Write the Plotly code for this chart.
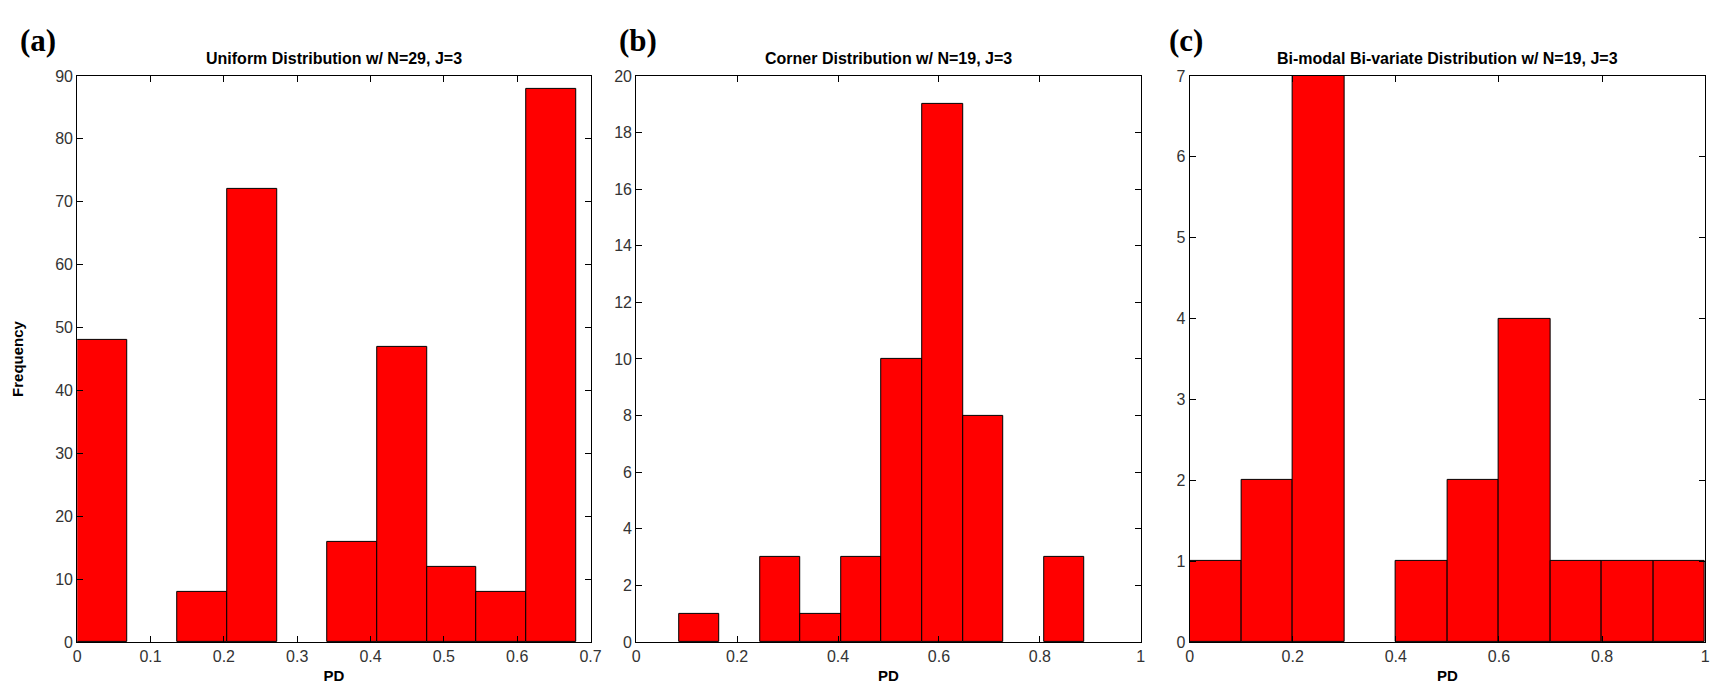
import numpy as np
import plotly.graph_objects as go

# ---- data ----
titles = ["Uniform Distribution w/ N=29, J=3",
          "Corner Distribution w/ N=19, J=3",
          "Bi-modal Bi-variate Distribution w/ N=19, J=3"]
panel_labels = ["(a)", "(b)", "(c)"]

a_bin_start = 0.0
a_bin_width = 0.0681
a_counts = [48, 0, 8, 72, 0, 16, 47, 12, 8, 88]

b_bin_start = 0.085
b_bin_width = 0.0803
b_counts = [1, 0, 3, 1, 3, 10, 19, 8, 0, 3]

c_bin_start = 0.0
c_bin_width = 0.1
c_counts = [1, 2, 7, 0, 1, 2, 4, 1, 1, 1]

x_ranges = [[0, 0.7], [0, 1], [0, 1]]
x_dticks = [0.1, 0.2, 0.2]
y_ranges = [[0, 90], [0, 20], [0, 7]]
y_dticks = [10, 2, 1]

panels = [(a_bin_start, a_bin_width, a_counts),
          (b_bin_start, b_bin_width, b_counts),
          (c_bin_start, c_bin_width, c_counts)]

# ---- layout geometry ----
W, H = 1720, 698
x_doms = [[65.8 / W, 583.6 / W], [629.7 / W, 1138.7 / W], [1188.0 / W, 1708.0 / W]]
y_dom = [1 - 641.7 / H, 1 - 61.4 / H]
label_x_px = [6, 610, 1165]

fig = go.Figure()
SANS = "Liberation Sans, Arial, sans-serif"
tick_font = dict(family=SANS, size=16, color="#333333")

annotations = []
for i, (start, width, counts) in enumerate(panels):
    n = len(counts)
    centers = start + width * (np.arange(n) + 0.5)
    suffix = "" if i == 0 else str(i + 1)
    line_w = [1 if c > 0 else 0 for c in counts]
    fig.add_trace(go.Bar(
        x=centers, y=counts, width=[width] * n,
        marker=dict(color="#FF0000", line=dict(color="black", width=line_w)),
        xaxis="x" + suffix, yaxis="y" + suffix, showlegend=False,
    ))
    axcommon = dict(showline=True, linecolor="black", linewidth=1, mirror="ticks",
                    ticks="inside", ticklen=6, tickcolor="black", showgrid=False,
                    zeroline=False, tickfont=tick_font)
    fig.layout["xaxis" + suffix] = dict(
        domain=x_doms[i], range=x_ranges[i], dtick=x_dticks[i], tick0=0,
        anchor="y" + suffix,
        title=dict(text="<b>PD</b>", font=dict(family=SANS, size=15, color="black"), standoff=6),
        **axcommon)
    fig.layout["yaxis" + suffix] = dict(
        domain=y_dom, range=y_ranges[i], dtick=y_dticks[i], tick0=0,
        anchor="x" + suffix, **axcommon)
    xc = (x_doms[i][0] + x_doms[i][1]) / 2
    annotations.append(dict(text="<b>" + titles[i] + "</b>", x=xc, y=1 - 44 / H,
                            xref="paper", yref="paper", xanchor="center", yanchor="middle",
                            showarrow=False,
                            font=dict(family=SANS, size=16, color="black")))
    annotations.append(dict(text="<b>" + panel_labels[i] + "</b>",
                            x=label_x_px[i] / W, y=1 - 25 / H,
                            xref="paper", yref="paper", xanchor="left", yanchor="middle",
                            showarrow=False,
                            font=dict(family="Liberation Serif, Times New Roman, serif", size=31, color="black")))

fig.layout.yaxis.title = dict(text="<b>Frequency</b>", standoff=27,
                              font=dict(family=SANS, size=15, color="black"))

fig.update_layout(width=W, height=H, margin=dict(l=0, r=0, t=0, b=0),
                  plot_bgcolor="white", paper_bgcolor="white",
                  bargap=0, annotations=annotations)

fig.write_html("out.html")
